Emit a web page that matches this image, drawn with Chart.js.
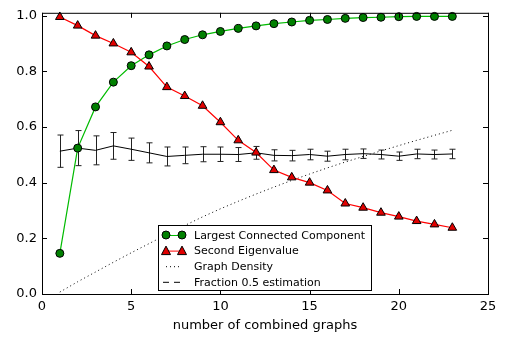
<!DOCTYPE html>
<html lang="en">
<head>
  <meta charset="UTF-8">
  <title>Combined graphs</title>
  <script src="https://cdn.jsdelivr.net/npm/chart.js"></script>
  <style>
    html, body { margin: 0; padding: 0; background: #fff; }
    #wrap { width: 507px; height: 337px; }
  </style>
</head>
<body>
<div id="wrap"><canvas id="chart"></canvas></div>
<script>
    const graphCounts = [1, 2, 3, 4, 5, 6, 7, 8, 9, 10, 11, 12, 13, 14, 15, 16, 17, 18, 19, 20, 21, 22, 23];
    const largestComponent = [0.146, 0.524, 0.672, 0.761, 0.820, 0.859, 0.891, 0.914, 0.931, 0.943, 0.954, 0.963,
        0.971, 0.977, 0.983, 0.986, 0.990, 0.993, 0.994, 0.996, 0.997, 0.997, 0.997];
    const secondEigenvalue = [0.995, 0.964, 0.928, 0.900, 0.868, 0.817, 0.743, 0.711, 0.676, 0.617, 0.552, 0.508,
        0.445, 0.419, 0.400, 0.372, 0.325, 0.310, 0.292, 0.278, 0.262, 0.250, 0.238];
    const graphDensity = [0.007, 0.044, 0.079, 0.114, 0.148, 0.181, 0.214, 0.246, 0.277, 0.306, 0.333, 0.359,
        0.384, 0.408, 0.431, 0.453, 0.474, 0.494, 0.514, 0.533, 0.552, 0.570, 0.588];
    const fractionMean = [0.513, 0.524, 0.516, 0.532, 0.520, 0.507, 0.494, 0.498, 0.502, 0.502, 0.501, 0.507,
        0.498, 0.497, 0.501, 0.495, 0.501, 0.504, 0.501, 0.495, 0.503, 0.501, 0.503];
    const fractionErr = [0.058, 0.063, 0.052, 0.048, 0.040, 0.036, 0.034, 0.030, 0.027, 0.026, 0.025, 0.023,
        0.020, 0.019, 0.019, 0.018, 0.019, 0.017, 0.016, 0.015, 0.017, 0.016, 0.017];
    const xTicks = [0, 5, 10, 15, 20, 25];
    const yTicks = [0, 0.2, 0.4, 0.6, 0.8, 1.0];

    const FONT = '"DejaVu Sans", sans-serif';

    function toPoints(ys) {
        return graphCounts.map((x, i) => ({ x: x, y: ys[i] }));
    }

    // error bars of the fraction series, drawn below the markers
    const errorBars = {
        id: 'errorBars',
        beforeDatasetsDraw(chart) {
            const { ctx, scales: { x, y } } = chart;
            ctx.save();
            ctx.strokeStyle = '#222';
            ctx.lineWidth = 1;
            graphCounts.forEach((g, i) => {
                const px = Math.round(x.getPixelForValue(g)) + 0.5;
                const top = y.getPixelForValue(fractionMean[i] + fractionErr[i]);
                const bot = y.getPixelForValue(fractionMean[i] - fractionErr[i]);
                ctx.beginPath();
                ctx.moveTo(px, top); ctx.lineTo(px, bot);
                ctx.moveTo(px - 3, top); ctx.lineTo(px + 3, top);
                ctx.moveTo(px - 3, bot); ctx.lineTo(px + 3, bot);
                ctx.stroke();
            });
            ctx.restore();
        }
    };

    // box round the axes with inward ticks on every side
    const frame = {
        id: 'frame',
        afterDatasetsDraw(chart) {
            const { ctx, chartArea: a, scales: { x, y } } = chart;
            ctx.save();
            ctx.strokeStyle = '#000';
            ctx.lineWidth = 1;
            ctx.strokeRect(a.left + 0.5, a.top + 0.5, a.right - a.left, a.bottom - a.top);
            ctx.beginPath();
            xTicks.forEach(v => {
                const px = Math.round(x.getPixelForValue(v)) + 0.5;
                ctx.moveTo(px, a.bottom); ctx.lineTo(px, a.bottom - 5);
                ctx.moveTo(px, a.top); ctx.lineTo(px, a.top + 5);
            });
            yTicks.forEach(v => {
                const py = Math.round(y.getPixelForValue(v)) + 0.5;
                ctx.moveTo(a.left, py); ctx.lineTo(a.left + 5, py);
                ctx.moveTo(a.right, py); ctx.lineTo(a.right - 5, py);
            });
            ctx.stroke();
            ctx.restore();
        }
    };

    // legend inside the axes, lower middle
    const boxLegend = {
        id: 'boxLegend',
        afterDraw(chart) {
            const { ctx, chartArea: a } = chart;
            const left = a.left + 116, top = a.bottom - 69, w = 213, h = 65;
            ctx.save();
            ctx.fillStyle = '#fff';
            ctx.fillRect(left, top, w, h);
            ctx.strokeStyle = '#000';
            ctx.lineWidth = 1;
            ctx.strokeRect(left + 0.5, top + 0.5, w, h);
            ctx.font = '11px ' + FONT;
            ctx.textBaseline = 'middle';
            const x0 = left + 8, x1 = left + 24;
            chart.data.datasets.forEach((ds, i) => {
                const cy = top + 10 + i * 15.6;
                ctx.strokeStyle = ds.borderColor;
                ctx.lineWidth = 1;
                if (i === 2) ctx.setLineDash([1, 3]);
                else if (i === 3) ctx.setLineDash([6, 5]);
                else ctx.setLineDash([]);
                ctx.beginPath();
                ctx.moveTo(x0 - (i === 3 ? 3 : 0), cy + 0.5);
                ctx.lineTo(x1 + (i === 3 ? 3 : 0), cy + 0.5);
                ctx.stroke();
                ctx.setLineDash([]);
                if (ds.pointRadius > 0) {
                    [x0, x1].forEach(px => {
                        ctx.fillStyle = ds.pointBackgroundColor;
                        ctx.strokeStyle = '#000';
                        ctx.beginPath();
                        if (ds.pointStyle === 'triangle') {
                            ctx.moveTo(px, cy - 4.5);
                            ctx.lineTo(px + 4.5, cy + 4);
                            ctx.lineTo(px - 4.5, cy + 4);
                            ctx.closePath();
                        } else {
                            ctx.arc(px, cy, 4, 0, Math.PI * 2);
                        }
                        ctx.fill();
                        ctx.stroke();
                    });
                }
                ctx.fillStyle = '#000';
                ctx.fillText(ds.label, left + 36, cy + 1);
            });
            ctx.restore();
        }
    };

    new Chart(document.getElementById('chart').getContext('2d'), {
        type: 'line',
        data: {
            datasets: [
                {
                    label: 'Largest Connected Component',
                    data: toPoints(largestComponent),
                    borderColor: '#00bb00',
                    borderWidth: 1.2,
                    pointStyle: 'circle',
                    pointRadius: 4,
                    pointBackgroundColor: '#008000',
                    pointBorderColor: '#000',
                    pointBorderWidth: 1,
                    clip: false,
                    order: 1
                },
                {
                    label: 'Second Eigenvalue',
                    data: toPoints(secondEigenvalue),
                    borderColor: '#ff0000',
                    borderWidth: 1.2,
                    pointStyle: 'triangle',
                    pointRadius: 5,
                    pointBackgroundColor: '#e00000',
                    pointBorderColor: '#000',
                    pointBorderWidth: 1,
                    clip: false,
                    order: 0
                },
                {
                    label: 'Graph Density',
                    data: toPoints(graphDensity),
                    borderColor: '#000',
                    borderWidth: 1,
                    borderDash: [1, 3],
                    pointRadius: 0,
                    order: 3
                },
                {
                    label: 'Fraction 0.5 estimation',
                    data: toPoints(fractionMean),
                    borderColor: '#000',
                    borderWidth: 1,
                    pointRadius: 0,
                    order: 2
                }
            ]
        },
        options: {
            responsive: true,
            maintainAspectRatio: false,
            animation: false,
            layout: { padding: { top: 9, right: 19, left: 0, bottom: 0 } },
            plugins: { legend: { display: false }, tooltip: { enabled: false } },
            scales: {
                x: {
                    type: 'linear',
                    min: 0,
                    max: 25,
                    afterFit: s => { s.height = 43; },
                    afterBuildTicks: s => { s.ticks = xTicks.map(v => ({ value: v })); },
                    grid: { display: false, drawTicks: false },
                    border: { display: false },
                    ticks: { color: '#000', padding: 5, maxRotation: 0, font: { family: FONT, size: 13 } },
                    title: {
                        display: true,
                        text: 'number of combined graphs',
                        color: '#000',
                        padding: { top: 0, bottom: 4 },
                        font: { family: FONT, size: 13 }
                    }
                },
                y: {
                    min: 0,
                    max: 1.01,
                    afterFit: s => { s.width = 42; },
                    afterBuildTicks: s => { s.ticks = yTicks.map(v => ({ value: v })); },
                    grid: { display: false, drawTicks: false },
                    border: { display: false },
                    ticks: {
                        color: '#000',
                        padding: 5,
                        font: { family: FONT, size: 13 },
                        callback: v => Number(v).toFixed(1)
                    }
                }
            }
        },
        plugins: [errorBars, frame, boxLegend]
    });
</script>
</body>
</html>
